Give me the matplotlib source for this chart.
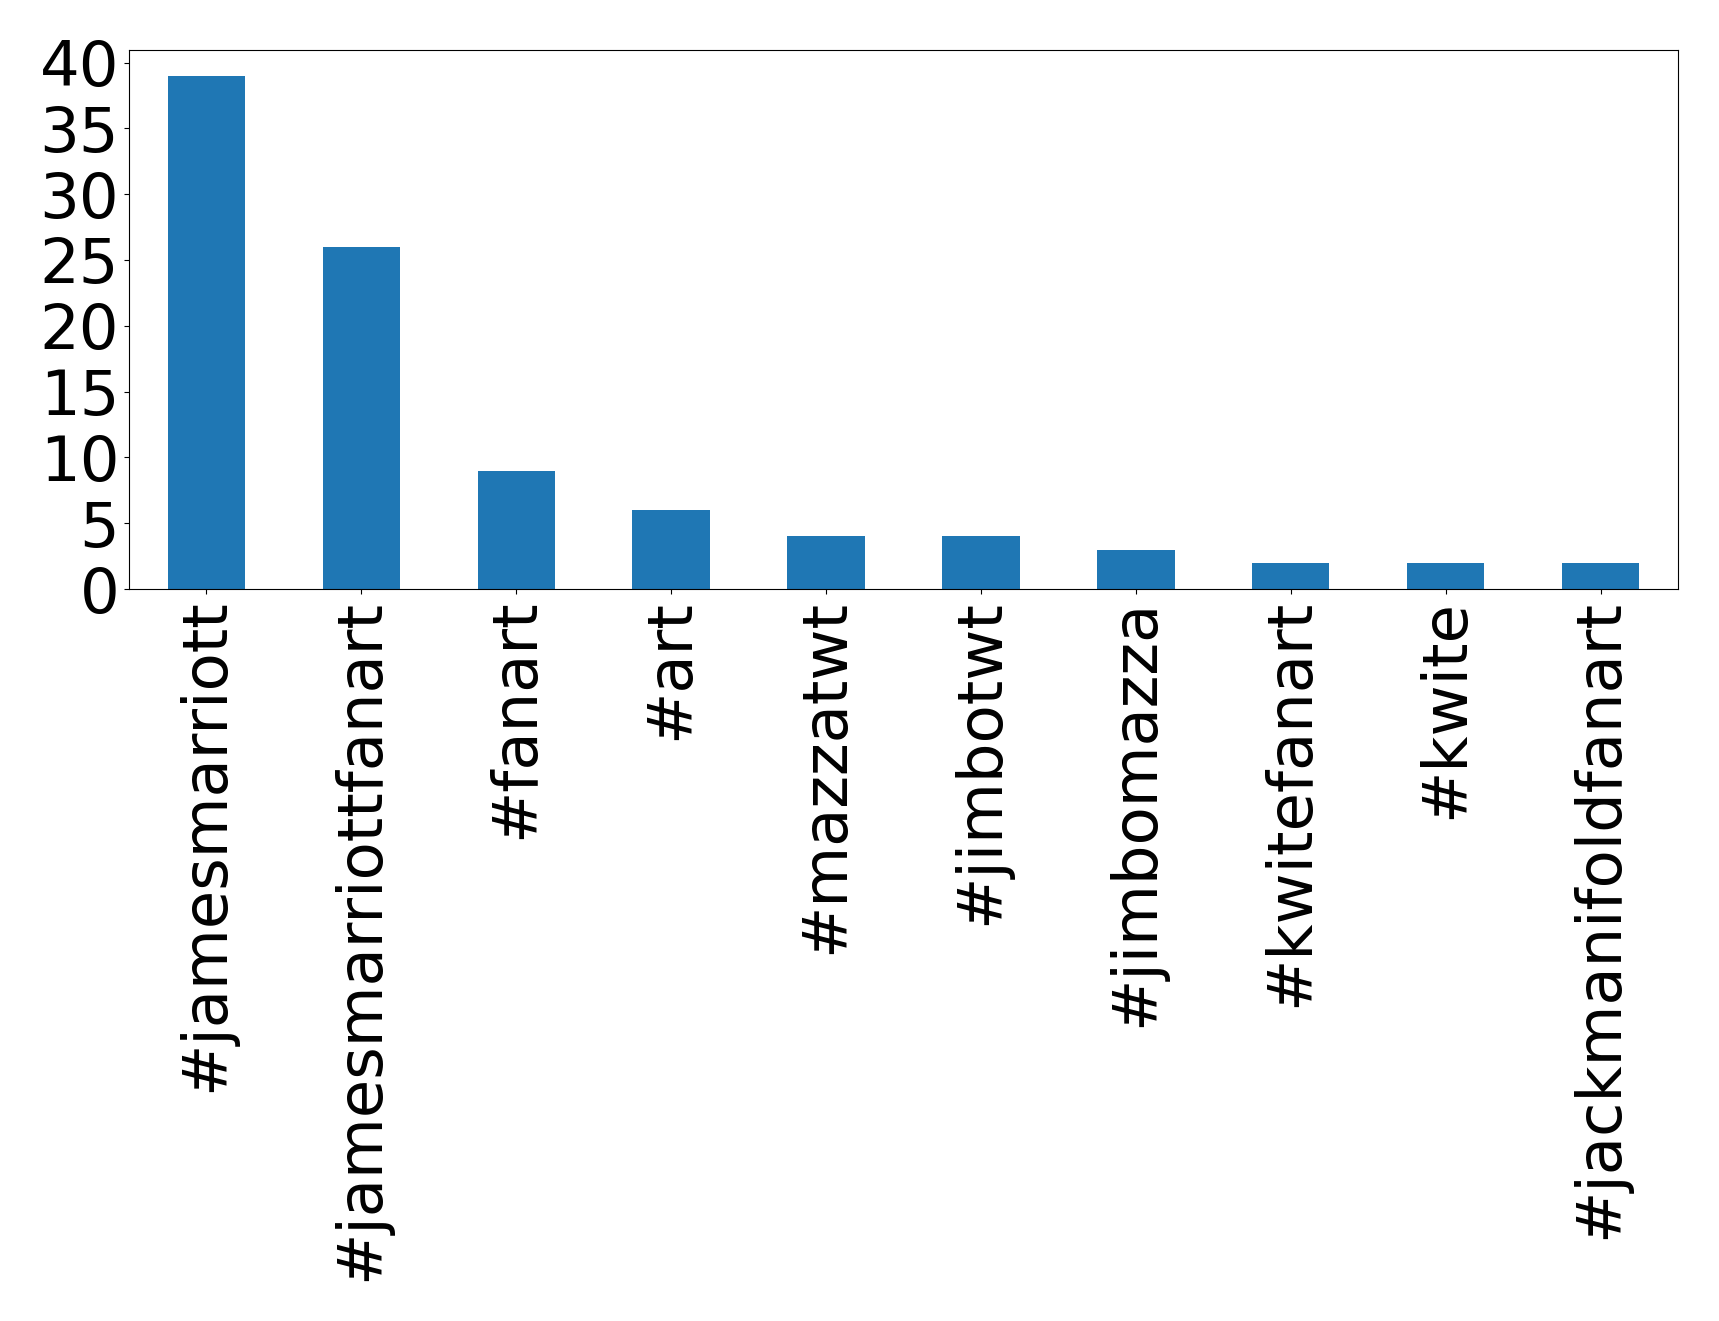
import matplotlib
matplotlib.use("Agg")
import matplotlib.pyplot as plt

# -----------------------------
# DATA
# -----------------------------
hashtags = ["#jamesmarriott", "#jamesmarriottfanart", "#fanart", "#art",
            "#mazzatwt", "#jimbotwt", "#jimbomazza", "#kwitefanart",
            "#kwite", "#jackmanifoldfanart"]
counts = [39, 26, 9, 6, 4, 4, 3, 2, 2, 2]
yticks = [0, 5, 10, 15, 20, 25, 30, 35, 40]

# -----------------------------
# PLOT
# -----------------------------
fig = plt.figure(figsize=(17.19, 13.21), dpi=100)
ax = fig.add_axes([129 / 1719, 1 - 589 / 1321, (1678 - 129) / 1719, (589 - 50) / 1321])

x = range(len(hashtags))
ax.bar(x, counts, width=0.5, color="#1f77b4")
ax.set_xlim(-0.5, len(hashtags) - 0.5)
ax.set_ylim(0, max(counts) * 1.05)
ax.set_yticks(yticks)
ax.set_xticks(list(x))
ax.set_xticklabels(hashtags, rotation=90)
ax.tick_params(axis="both", labelsize=45)

fig.savefig("out.png", dpi=100)
